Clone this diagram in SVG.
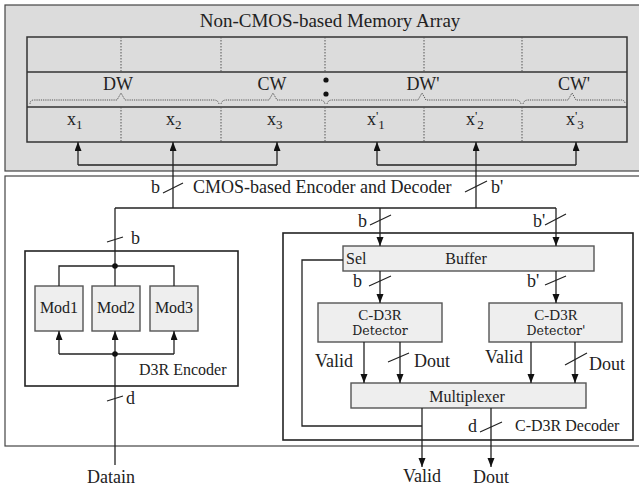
<svg xmlns="http://www.w3.org/2000/svg" width="639" height="489" viewBox="0 0 639 489">
<style>
text{font-family:"Liberation Serif","Times New Roman",serif;fill:#222;}
.t18{font-size:18px;}
.t16{font-size:16px;}
.box{fill:#fff;stroke:#222;stroke-width:1.6;}
.blk{fill:#eeeeee;stroke:#555;stroke-width:1.4;}
.ln{fill:none;stroke:#222;stroke-width:1.3;}
.sl{stroke:#222;stroke-width:1.2;}
.dot{stroke:#555;stroke-width:1;stroke-dasharray:1.5 1.5;fill:none;}
.brace{stroke:#555;stroke-width:1;stroke-dasharray:1.2 1;fill:none;}
.arr{marker-end:url(#ah);}
</style>
<defs>
<marker id="ah" markerUnits="userSpaceOnUse" markerWidth="10" markerHeight="8" refX="9" refY="3.5" orient="auto">
<path d="M0,0 L9,3.5 L0,7 z" fill="#111"/>
</marker>
</defs>

<g id="memory-array">
<rect x="5" y="5" width="640" height="166" fill="#dcdcdc" stroke="#444" stroke-width="1.2"/>
<text class="t18" x="330" y="27" text-anchor="middle" style="font-size:19px">Non-CMOS-based Memory Array</text>
<rect x="27" y="37" width="600" height="105" fill="#dcdcdc" stroke="#333" stroke-width="1.5"/>
<line x1="27" y1="72" x2="627" y2="72" stroke="#333" stroke-width="1.3"/>
<line x1="27" y1="107" x2="627" y2="107" stroke="#333" stroke-width="1.3"/>
<path class="dot" d="M121,37V72 M221,37V72 M325,37V72 M424,37V72 M522,37V72 M121,107V142 M221,107V142 M325,107V142 M424,107V142 M522,107V142"/>
<path class="brace" d="M30,104 Q30,100 34,100 H117 L121,93 L125,100 H214 Q218,100 219,104"/>
<path class="brace" d="M221,104 Q222,100 226,100 H269 L273,93 L277,100 H320 Q324,100 325,104"/>
<path class="brace" d="M327,104 Q328,100 332,100 H418 L422,93 L426,100 H516 Q520,100 521,104"/>
<path class="brace" d="M523,104 Q524,100 528,100 H568 L572,93 L576,100 H621 Q625,100 625,104"/>
<text class="t18" x="118" y="90" text-anchor="middle">DW</text>
<text class="t18" x="272" y="90" text-anchor="middle">CW</text>
<text class="t18" x="423" y="90" text-anchor="middle">DW'</text>
<text class="t18" x="574" y="90" text-anchor="middle">CW'</text>
<circle cx="326" cy="80" r="2.6" fill="#111"/>
<circle cx="326" cy="94" r="2.6" fill="#111"/>
<text class="t18" x="67" y="125">x<tspan dy="4" style="font-size:13px">1</tspan></text>
<text class="t18" x="166" y="125">x<tspan dy="4" style="font-size:13px">2</tspan></text>
<text class="t18" x="267" y="125">x<tspan dy="4" style="font-size:13px">3</tspan></text>
<text class="t18" x="367" y="125">x<tspan dy="-5" style="font-size:13px">'</tspan><tspan dy="9" style="font-size:13px">1</tspan></text>
<text class="t18" x="466" y="125">x<tspan dy="-5" style="font-size:13px">'</tspan><tspan dy="9" style="font-size:13px">2</tspan></text>
<text class="t18" x="566" y="125">x<tspan dy="-5" style="font-size:13px">'</tspan><tspan dy="9" style="font-size:13px">3</tspan></text>
</g>

<g id="cmos-block">
<rect x="5" y="176" width="640" height="270" fill="#fff" stroke="#444" stroke-width="1.2"/>
<text class="t18" x="193" y="193">CMOS-based Encoder and Decoder</text>
</g>

<g id="d3r-encoder">
<rect class="box" x="25" y="251" width="213" height="135"/>
<text class="t16" x="139" y="375">D3R Encoder</text>
</g>
<g id="mod1"><rect class="blk" x="35" y="286" width="48" height="45"/><text class="t16" x="59" y="313" text-anchor="middle">Mod1</text></g>
<g id="mod2"><rect class="blk" x="92" y="286" width="48" height="45"/><text class="t16" x="116" y="313" text-anchor="middle">Mod2</text></g>
<g id="mod3"><rect class="blk" x="150" y="286" width="48" height="45"/><text class="t16" x="174" y="313" text-anchor="middle">Mod3</text></g>

<g id="c-d3r-decoder">
<rect class="box" x="283" y="233" width="350" height="207"/>
<text class="t16" x="515" y="431">C-D3R Decoder</text>
</g>
<g id="buffer">
<rect class="blk" x="343" y="246" width="251" height="25"/>
<text class="t16" x="346" y="264">Sel</text>
<text class="t16" x="466" y="264" text-anchor="middle">Buffer</text>
</g>
<g id="detector1">
<rect class="blk" x="318" y="303" width="124" height="39"/>
<text x="380" y="320" text-anchor="middle" style="font-size:15px">C-D3R</text>
<text x="380" y="335" text-anchor="middle" style="font-family:'DejaVu Serif',serif;font-size:12.5px">Detector</text>
</g>
<g id="detector2">
<rect class="blk" x="489" y="303" width="133" height="39"/>
<text x="556" y="320" text-anchor="middle" style="font-size:15px">C-D3R</text>
<text x="556" y="335" text-anchor="middle" style="font-family:'DejaVu Serif',serif;font-size:12.5px">Detector'</text>
</g>
<g id="multiplexer">
<rect class="blk" x="351" y="383" width="235" height="25"/>
<text class="t16" x="467" y="402" text-anchor="middle">Multiplexer</text>
</g>

<g id="connectors">
<path class="ln" d="M78,165 H277"/>
<path class="ln arr" d="M78,165 V142"/>
<path class="ln arr" d="M277,165 V142"/>
<path class="ln arr" d="M173,208 V142"/>
<path class="ln" d="M377,165 H576"/>
<path class="ln arr" d="M377,165 V142"/>
<path class="ln arr" d="M576,165 V142"/>
<path class="ln arr" d="M476,208 V142"/>
<path class="ln" d="M115,208 H556"/>
<path class="ln" d="M115,208 V266"/>
<path class="ln" d="M59,286 V266 H174 V286 M115,266 V286"/>
<circle cx="115" cy="266" r="2.8" fill="#111"/>
<path class="ln arr" d="M115,465 V331"/>
<path class="ln" d="M59,354 H174"/>
<path class="ln arr" d="M59,354 V331"/>
<path class="ln arr" d="M174,354 V331"/>
<circle cx="115" cy="354" r="2.8" fill="#111"/>
<path class="ln arr" d="M380,208 V246"/>
<path class="ln arr" d="M556,208 V246"/>
<path class="ln arr" d="M380,271 V303"/>
<path class="ln arr" d="M556,271 V303"/>
<path class="ln arr" d="M364,342 V383"/>
<path class="ln arr" d="M400,342 V383"/>
<path class="ln arr" d="M531,342 V383"/>
<path class="ln arr" d="M575,342 V383"/>
<path class="ln" d="M343,260 H302 V426 H422"/>
<path class="ln arr" d="M422,408 V467"/>
<path class="ln arr" d="M491,408 V467"/>
<path class="sl" d="M163,193 L183,183 M465,192 L487,181 M107,242 L123,237 M107,401 L123,396 M370,225 L391,215 M545,225 L566,214 M369,286 L391,276 M545,285 L566,276 M388,362 L409,353 M565,365 L587,353 M480,432 L502,422"/>
<text class="t18" x="160" y="193" text-anchor="end">b</text>
<text class="t18" x="491" y="193">b'</text>
<text class="t18" x="131" y="244">b</text>
<text class="t18" x="126" y="404">d</text>
<text class="t18" x="358" y="227">b</text>
<text class="t18" x="533" y="227">b'</text>
<text class="t18" x="353" y="287">b</text>
<text class="t18" x="527" y="287">b'</text>
<text class="t18" x="353" y="367" text-anchor="end">Valid</text>
<text class="t18" x="414" y="367">Dout</text>
<text class="t18" x="485" y="363">Valid</text>
<text class="t18" x="589" y="370">Dout</text>
<text class="t18" x="468" y="432">d</text>
<text class="t18" x="111" y="483" text-anchor="middle">Datain</text>
<text class="t18" x="422" y="482" text-anchor="middle">Valid</text>
<text class="t18" x="491" y="483" text-anchor="middle">Dout</text>
</g>
</svg>
